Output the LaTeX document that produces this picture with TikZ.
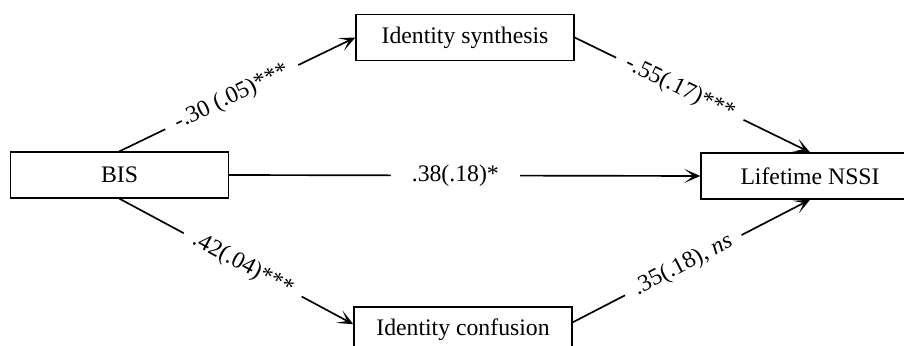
\documentclass[tikz,border=0pt]{standalone}
\usepackage{fontspec}
\setmainfont{Liberation Serif}
\usetikzlibrary{arrows.meta, positioning}

\begin{document}
\begin{tikzpicture}[
    font=\fontsize{13.5}{16}\selectfont,
    box/.style={draw, line width=0.8pt, minimum width=4.36cm, minimum height=0.92cm, inner sep=0pt},
    eff/.style={-{Stealth[length=3.2mm, width=2.8mm, inset=1.8mm]}, line width=0.95pt},
    coef/.style={fill=white, sloped, inner xsep=6.5pt, inner ysep=1pt}]

  \useasboundingbox (0,0) rectangle (18.08,6.90);

  \node[box] (bis)  at (2.39,3.40)  {BIS};
  \node[box] (syn)  at (9.30,6.15)  {Identity synthesis};
  \node[box] (con)  at (9.26,0.30)  {Identity confusion};
  \node[box] (nssi) at (16.20,3.38) {Lifetime NSSI};

  \draw[eff] (bis.north) -- node[coef, pos=0.476] {-.30 (.05)***} (syn.west);
  \draw[eff] (syn.east) -- node[coef, pos=0.447] {-.55(.17)***} (nssi.north);
  \draw[eff] (bis.east) -- node[coef, pos=0.48, inner xsep=12pt] {.38(.18)*} (nssi.west);
  \draw[eff] (bis.south) -- node[coef, pos=0.527] {.42(.04)***} (con.177);
  \draw[eff] (con.4) -- node[coef, pos=0.466] {.35(.18), \textit{ns}} (nssi.south);
\end{tikzpicture}
\end{document}
